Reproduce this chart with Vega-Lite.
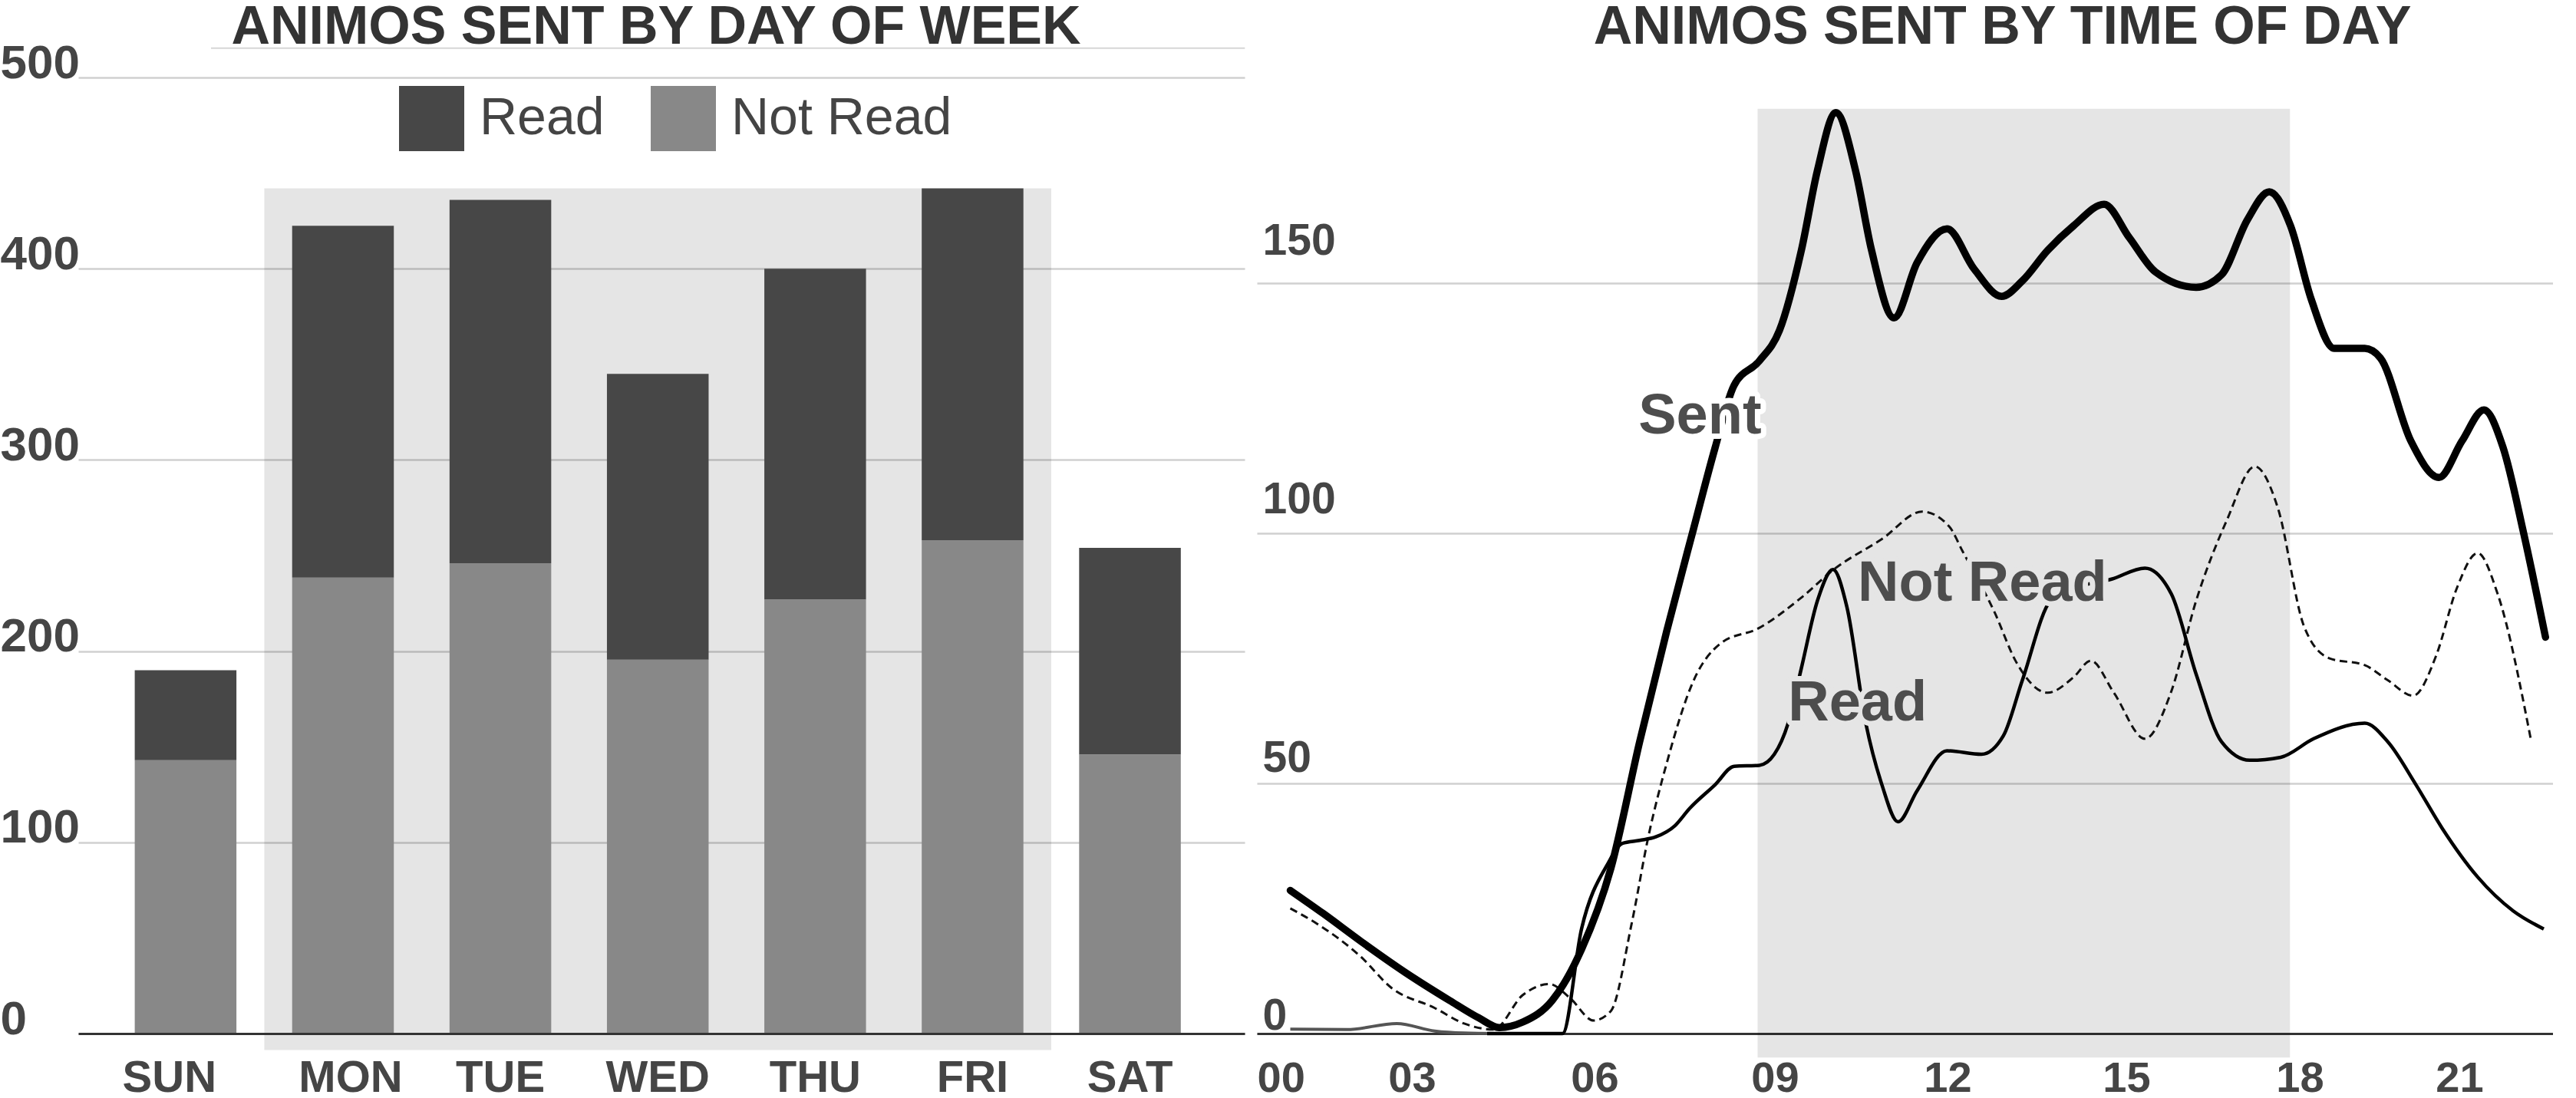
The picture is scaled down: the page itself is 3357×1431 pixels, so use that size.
{
  "$schema": "https://vega.github.io/schema/vega-lite/v6.json",
  "background": "white",
  "padding": {"left": 0, "top": 0, "right": 0, "bottom": 0},
  "spacing": 14,
  "resolve": {"scale": {"color": "independent", "fill": "independent", "stroke": "independent"}, "legend": {"color": "independent"}},
  "config": {
    "view": {"stroke": null},
    "font": "Liberation Sans",
    "title": {"font": "Liberation Sans", "fontSize": 70, "fontWeight": "bold", "color": "#333333", "frame": "group", "baseline": "alphabetic", "anchor": "middle"},
    "axis": {"labelFont": "Liberation Sans", "labelFontWeight": "bold", "labelColor": "#454545", "gridColor": "#d0d0d0", "gridWidth": 2.5, "labelOverlap": false}
  },
  "hconcat": [
    {
      "width": 1520,
      "height": 1246,
      "title": {"text": "ANIMOS SENT BY DAY OF WEEK", "dx": -7, "offset": -20.5},
      "layer": [
        {
          "data": {"values": [{"from": "MON", "to": "FRI", "top": 442}]},
          "mark": {"type": "rect", "color": "#000000", "opacity": 0.1},
          "encoding": {
            "x": {"field": "from", "type": "nominal", "bandPosition": -0.274,
                  "scale": {"domain": ["SUN", "MON", "TUE", "WED", "THU", "FRI", "SAT"], "paddingInner": 0.354, "paddingOuter": 0.3822, "align": 0.4694}},
            "x2": {"field": "to", "bandPosition": 1.274},
            "y": {"field": "top", "type": "quantitative", "scale": {"domain": [0, 500], "nice": false}},
            "y2": {"datum": -8.6}
          }
        },
        {
          "data": {"values": [{"from": "SUN", "to": "SAT", "level": 515.3}]},
          "mark": {"type": "rule", "color": "#d6d6d6", "strokeWidth": 2},
          "encoding": {
            "x": {"field": "from", "type": "nominal", "bandPosition": 0.75,
                  "scale": {"domain": ["SUN", "MON", "TUE", "WED", "THU", "FRI", "SAT"], "paddingInner": 0.354, "paddingOuter": 0.3822, "align": 0.4694}},
            "x2": {"field": "to", "bandPosition": 1.63},
            "y": {"field": "level", "type": "quantitative", "scale": {"domain": [0, 500], "nice": false}}
          }
        },
        {
          "data": {
            "values": [
              {"day": "SUN", "status": "Not Read", "count": 143},
              {"day": "SUN", "status": "Read", "count": 47},
              {"day": "MON", "status": "Not Read", "count": 238.5},
              {"day": "MON", "status": "Read", "count": 184},
              {"day": "TUE", "status": "Not Read", "count": 246},
              {"day": "TUE", "status": "Read", "count": 190},
              {"day": "WED", "status": "Not Read", "count": 195.5},
              {"day": "WED", "status": "Read", "count": 149.5},
              {"day": "THU", "status": "Not Read", "count": 227},
              {"day": "THU", "status": "Read", "count": 173},
              {"day": "FRI", "status": "Not Read", "count": 258},
              {"day": "FRI", "status": "Read", "count": 184},
              {"day": "SAT", "status": "Not Read", "count": 146},
              {"day": "SAT", "status": "Read", "count": 108}
            ]
          },
          "mark": {"type": "bar"},
          "encoding": {
            "x": {
              "field": "day", "type": "nominal",
              "scale": {"domain": ["SUN", "MON", "TUE", "WED", "THU", "FRI", "SAT"], "paddingInner": 0.354, "paddingOuter": 0.3822, "align": 0.4694},
              "axis": {"title": null, "labelAngle": 0, "bandPosition": 0.5, "ticks": false, "tickSize": 0, "domain": true, "domainColor": "#333333", "domainWidth": 3, "labelFontSize": 58, "labelPadding": 75.5, "labelBaseline": "alphabetic", "labelAlign": "center",
                       "labelOffset": {"condition": [{"test": "datum.value == 'SUN'", "value": -21}, {"test": "datum.value == 'MON'", "value": 10}], "value": 0}}
            },
            "y": {
              "field": "count", "type": "quantitative", "stack": "zero",
              "scale": {"domain": [0, 500], "nice": false},
              "axis": {"title": null, "values": [0, 100, 200, 300, 400, 500], "grid": true, "domain": false, "ticks": false, "tickSize": 0, "labelAlign": "left", "labelPadding": 102, "labelBaseline": "alphabetic", "labelFlush": false, "labelFontSize": 62}
            },
            "color": {
              "field": "status", "type": "nominal",
              "scale": {"domain": ["Read", "Not Read"], "range": ["#474747", "#888888"]},
              "legend": {"title": null, "orient": "none", "legendX": 418, "legendY": 11, "direction": "horizontal", "symbolType": "square", "symbolSize": 7225, "symbolStrokeWidth": 0, "symbolOpacity": 1, "labelFont": "Liberation Sans", "labelFontSize": 68, "labelFontWeight": "normal", "labelColor": "#444444", "labelOffset": 20, "labelLimit": 600, "columnPadding": 60, "padding": 0}
            },
            "order": {"field": "status", "sort": "ascending"}
          }
        }
      ]
    },
    {
      "width": 1689,
      "height": 1246,
      "title": {"text": "ANIMOS SENT BY TIME OF DAY", "dx": 127, "offset": 28.7},
      "layer": [
        {
          "data": {"values": [{"start": 8.7, "end": 17.95}]},
          "mark": {"type": "rect", "color": "#000000", "opacity": 0.1},
          "encoding": {
            "x": {"field": "start", "type": "quantitative", "scale": {"domain": [0, 22.52], "nice": false, "zero": false}},
            "x2": {"field": "end"},
            "y": {"datum": 184.8, "type": "quantitative", "scale": {"domain": [0, 191.03], "nice": false}},
            "y2": {"datum": -4.8}
          }
        },
        {
          "data": {
            "values": [
              {"series": "Other", "hour": 0.58, "count": 0.9},
              {"series": "Other", "hour": 1.56, "count": 0.8},
              {"series": "Other", "hour": 2.43, "count": 2},
              {"series": "Other", "hour": 3.09, "count": 0.5},
              {"series": "Other", "hour": 3.6, "count": 0.1},
              {"series": "Other", "hour": 4.2, "count": 0},

              {"series": "Not Read", "hour": 0.58, "count": 25},
              {"series": "Not Read", "hour": 1.05, "count": 21.9},
              {"series": "Not Read", "hour": 1.81, "count": 15.3},
              {"series": "Not Read", "hour": 2.33, "count": 9.2},
              {"series": "Not Read", "hour": 3.09, "count": 5.1},
              {"series": "Not Read", "hour": 3.6, "count": 2},
              {"series": "Not Read", "hour": 4.11, "count": 0.8},
              {"series": "Not Read", "hour": 4.62, "count": 7.7},
              {"series": "Not Read", "hour": 5.08, "count": 9.9},
              {"series": "Not Read", "hour": 5.44, "count": 7.1},
              {"series": "Not Read", "hour": 5.85, "count": 2.6},
              {"series": "Not Read", "hour": 6.15, "count": 4.5},
              {"series": "Not Read", "hour": 6.51, "count": 21.9},
              {"series": "Not Read", "hour": 6.81, "count": 39.8},
              {"series": "Not Read", "hour": 7.12, "count": 54},
              {"series": "Not Read", "hour": 7.59, "count": 70.6},
              {"series": "Not Read", "hour": 8.05, "count": 77.9},
              {"series": "Not Read", "hour": 8.72, "count": 81},
              {"series": "Not Read", "hour": 9.46, "count": 87.1},
              {"series": "Not Read", "hour": 10.02, "count": 92.7},
              {"series": "Not Read", "hour": 10.86, "count": 98.8},
              {"series": "Not Read", "hour": 11.56, "count": 104.3},
              {"series": "Not Read", "hour": 12.03, "count": 101.3},
              {"series": "Not Read", "hour": 12.26, "count": 96.4},
              {"series": "Not Read", "hour": 12.82, "count": 84.1},
              {"series": "Not Read", "hour": 13.19, "count": 74.3},
              {"series": "Not Read", "hour": 13.74, "count": 68.1},
              {"series": "Not Read", "hour": 14.19, "count": 71.2},
              {"series": "Not Read", "hour": 14.49, "count": 74.5},
              {"series": "Not Read", "hour": 14.89, "count": 68.1},
              {"series": "Not Read", "hour": 15.43, "count": 58.9},
              {"series": "Not Read", "hour": 15.88, "count": 68.1},
              {"series": "Not Read", "hour": 16.32, "count": 86.5},
              {"series": "Not Read", "hour": 16.85, "count": 102.5},
              {"series": "Not Read", "hour": 17.34, "count": 113.3},
              {"series": "Not Read", "hour": 17.74, "count": 105},
              {"series": "Not Read", "hour": 18.19, "count": 81.5},
              {"series": "Not Read", "hour": 18.63, "count": 75},
              {"series": "Not Read", "hour": 19.25, "count": 73.6},
              {"series": "Not Read", "hour": 19.65, "count": 70.6},
              {"series": "Not Read", "hour": 20.09, "count": 67.5},
              {"series": "Not Read", "hour": 20.49, "count": 75.5},
              {"series": "Not Read", "hour": 20.85, "count": 89},
              {"series": "Not Read", "hour": 21.21, "count": 96},
              {"series": "Not Read", "hour": 21.56, "count": 87.8},
              {"series": "Not Read", "hour": 22.14, "count": 58.5},

              {"series": "Read", "hour": 4.0, "count": 0},
              {"series": "Read", "hour": 5.31, "count": 0},
              {"series": "Read", "hour": 5.64, "count": 20.9},
              {"series": "Read", "hour": 6.1, "count": 34},
              {"series": "Read", "hour": 6.35, "count": 38},
              {"series": "Read", "hour": 6.65, "count": 38.6},
              {"series": "Read", "hour": 6.93, "count": 39.3},
              {"series": "Read", "hour": 7.26, "count": 41.5},
              {"series": "Read", "hour": 7.52, "count": 45},
              {"series": "Read", "hour": 7.96, "count": 49.7},
              {"series": "Read", "hour": 8.29, "count": 53.4},
              {"series": "Read", "hour": 8.73, "count": 53.6},
              {"series": "Read", "hour": 8.99, "count": 55.8},
              {"series": "Read", "hour": 9.23, "count": 62},
              {"series": "Read", "hour": 9.46, "count": 73},
              {"series": "Read", "hour": 9.74, "count": 86.5},
              {"series": "Read", "hour": 10.01, "count": 92.7},
              {"series": "Read", "hour": 10.25, "count": 85.3},
              {"series": "Read", "hour": 10.58, "count": 62},
              {"series": "Read", "hour": 10.86, "count": 49.7},
              {"series": "Read", "hour": 11.14, "count": 42.3},
              {"series": "Read", "hour": 11.47, "count": 48.5},
              {"series": "Read", "hour": 11.99, "count": 56.5},
              {"series": "Read", "hour": 12.59, "count": 55.8},
              {"series": "Read", "hour": 12.97, "count": 59.5},
              {"series": "Read", "hour": 13.3, "count": 70.6},
              {"series": "Read", "hour": 13.79, "count": 86.5},
              {"series": "Read", "hour": 14.2, "count": 89},
              {"series": "Read", "hour": 14.85, "count": 90.8},
              {"series": "Read", "hour": 15.43, "count": 93},
              {"series": "Read", "hour": 15.89, "count": 87.8},
              {"series": "Read", "hour": 16.32, "count": 71.8},
              {"series": "Read", "hour": 16.76, "count": 58.3},
              {"series": "Read", "hour": 17.25, "count": 54.6},
              {"series": "Read", "hour": 17.79, "count": 55.2},
              {"series": "Read", "hour": 18.36, "count": 58.9},
              {"series": "Read", "hour": 19.25, "count": 62},
              {"series": "Read", "hour": 19.65, "count": 58.3},
              {"series": "Read", "hour": 20.14, "count": 49.7},
              {"series": "Read", "hour": 20.59, "count": 41.1},
              {"series": "Read", "hour": 21.21, "count": 31.3},
              {"series": "Read", "hour": 21.83, "count": 24.5},
              {"series": "Read", "hour": 22.36, "count": 20.9},

              {"series": "Sent", "hour": 0.58, "count": 28.6},
              {"series": "Sent", "hour": 1.15, "count": 24},
              {"series": "Sent", "hour": 1.81, "count": 18.4},
              {"series": "Sent", "hour": 2.58, "count": 12.2},
              {"series": "Sent", "hour": 3.35, "count": 6.6},
              {"series": "Sent", "hour": 3.86, "count": 3.1},
              {"series": "Sent", "hour": 4.21, "count": 1.2},
              {"series": "Sent", "hour": 4.62, "count": 2.3},
              {"series": "Sent", "hour": 5.13, "count": 6.6},
              {"series": "Sent", "hour": 5.64, "count": 16.8},
              {"series": "Sent", "hour": 6.15, "count": 33},
              {"series": "Sent", "hour": 6.65, "count": 58.3},
              {"series": "Sent", "hour": 7.12, "count": 80.4},
              {"series": "Sent", "hour": 7.59, "count": 101},
              {"series": "Sent", "hour": 7.96, "count": 117},
              {"series": "Sent", "hour": 8.29, "count": 129.5},
              {"series": "Sent", "hour": 8.73, "count": 134.4},
              {"series": "Sent", "hour": 9.08, "count": 140.5},
              {"series": "Sent", "hour": 9.46, "count": 156.5},
              {"series": "Sent", "hour": 9.74, "count": 172.5},
              {"series": "Sent", "hour": 10.06, "count": 184},
              {"series": "Sent", "hour": 10.4, "count": 172.5},
              {"series": "Sent", "hour": 10.68, "count": 156.5},
              {"series": "Sent", "hour": 11.07, "count": 143},
              {"series": "Sent", "hour": 11.47, "count": 154},
              {"series": "Sent", "hour": 11.99, "count": 160.8},
              {"series": "Sent", "hour": 12.46, "count": 152.8},
              {"series": "Sent", "hour": 12.94, "count": 147.3},
              {"series": "Sent", "hour": 13.3, "count": 150.4},
              {"series": "Sent", "hour": 13.74, "count": 156.5},
              {"series": "Sent", "hour": 14.19, "count": 161.4},
              {"series": "Sent", "hour": 14.72, "count": 165.7},
              {"series": "Sent", "hour": 15.16, "count": 159},
              {"series": "Sent", "hour": 15.61, "count": 152.2},
              {"series": "Sent", "hour": 16.32, "count": 149.1},
              {"series": "Sent", "hour": 16.76, "count": 151.6},
              {"series": "Sent", "hour": 17.21, "count": 162.6},
              {"series": "Sent", "hour": 17.59, "count": 168.2},
              {"series": "Sent", "hour": 17.96, "count": 161.4},
              {"series": "Sent", "hour": 18.32, "count": 146.7},
              {"series": "Sent", "hour": 18.72, "count": 136.9},
              {"series": "Sent", "hour": 19.25, "count": 136.9},
              {"series": "Sent", "hour": 19.52, "count": 135},
              {"series": "Sent", "hour": 20.05, "count": 118.4},
              {"series": "Sent", "hour": 20.54, "count": 111.1},
              {"series": "Sent", "hour": 20.94, "count": 118.4},
              {"series": "Sent", "hour": 21.32, "count": 124.6},
              {"series": "Sent", "hour": 21.65, "count": 117.2},
              {"series": "Sent", "hour": 22.01, "count": 100},
              {"series": "Sent", "hour": 22.39, "count": 79.2}
            ]
          },
          "encoding": {
            "x": {
              "field": "hour", "type": "quantitative",
              "scale": {"domain": [0, 22.52], "nice": false, "zero": false},
              "axis": {"title": null, "values": [0, 3, 6, 9, 12, 15, 18, 21], "format": "02d", "grid": false, "ticks": false, "tickSize": 0, "domain": true, "domainColor": "#333333", "domainWidth": 3, "labelFontSize": 56, "labelPadding": 75.5, "labelBaseline": "alphabetic", "labelFlush": true,
                       "labelOffset": {"condition": [{"test": "datum.value == 3", "value": -23}, {"test": "datum.value == 6", "value": -10}, {"test": "datum.value == 15", "value": 8}, {"test": "datum.value == 18", "value": 9}, {"test": "datum.value == 21", "value": -8}], "value": 0}}
            },
            "y": {
              "field": "count", "type": "quantitative",
              "scale": {"domain": [0, 191.03], "nice": false},
              "axis": {"title": null, "values": [0, 50, 100, 150], "grid": true, "domain": false, "ticks": false, "tickSize": 0, "labelAlign": "left", "labelPadding": -7, "labelBaseline": "alphabetic", "labelFlush": false, "labelFontSize": 57,
                       "labelOffset": {"condition": [{"test": "datum.value == 150", "value": -37}, {"test": "datum.value == 100", "value": -26}, {"test": "datum.value == 50", "value": -15}], "value": -6}}
            }
          },
          "layer": [
            {
              "transform": [{"filter": "datum.series == 'Other'"}],
              "mark": {"type": "line", "interpolate": "monotone", "color": "#555555", "strokeWidth": 4}
            },
            {
              "transform": [{"filter": "datum.series == 'Not Read'"}],
              "mark": {"type": "line", "interpolate": "monotone", "color": "#111111", "strokeWidth": 3, "strokeDash": [10, 6]}
            },
            {
              "transform": [{"filter": "datum.series == 'Read'"}],
              "mark": {"type": "line", "interpolate": "monotone", "color": "#000000", "strokeWidth": 4.5, "strokeJoin": "round"}
            },
            {
              "transform": [{"filter": "datum.series == 'Sent'"}],
              "mark": {"type": "line", "interpolate": "monotone", "color": "#000000", "strokeWidth": 9.5, "strokeJoin": "round", "strokeCap": "round"}
            }
          ]
        },
        {
          "data": {
            "values": [
              {"label": "Sent", "hour": 6.63, "count": 119.9},
              {"label": "Not Read", "hour": 10.44, "count": 86.5},
              {"label": "Read", "hour": 9.23, "count": 62.6}
            ]
          },
          "encoding": {
            "x": {"field": "hour", "type": "quantitative"},
            "y": {"field": "count", "type": "quantitative"},
            "text": {"field": "label"}
          },
          "layer": [
            {
              "mark": {"type": "text", "align": "left", "baseline": "alphabetic", "font": "Liberation Sans", "fontSize": 74, "fontWeight": "bold", "strokeWidth": 14, "strokeJoin": "round"},
              "encoding": {
                "fill": {"field": "label", "type": "nominal", "scale": {"domain": ["Sent", "Not Read", "Read"], "range": ["#ffffff", "#e5e5e5", "#e5e5e5"]}, "legend": null},
                "stroke": {"field": "label", "type": "nominal", "scale": {"domain": ["Sent", "Not Read", "Read"], "range": ["#ffffff", "#e5e5e5", "#e5e5e5"]}, "legend": null}
              }
            },
            {
              "mark": {"type": "text", "align": "left", "baseline": "alphabetic", "font": "Liberation Sans", "fontSize": 74, "fontWeight": "bold", "color": "#4d4d4d"}
            }
          ]
        }
      ]
    }
  ]
}
